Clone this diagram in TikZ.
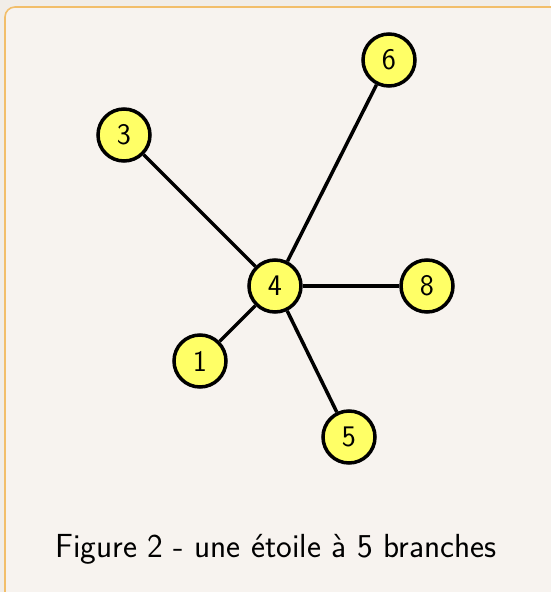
\documentclass[tikz,border=0pt]{standalone}
\usetikzlibrary{positioning}
\definecolor{page}{HTML}{F1EDE8}
\definecolor{panel}{HTML}{F7F3EF}
\definecolor{rim}{HTML}{F2BE6A}
\definecolor{star yellow}{HTML}{FFFF66}
\tikzset{S node/.style={circle,fill=star yellow,draw,line width=2pt,minimum size=1.04cm,inner sep=0pt,font=\sffamily\fontsize{17}{20}\selectfont},}

\begin{document}
\begin{tikzpicture}
			\fill[page] (0,0) rectangle (11,-11.84);
			\useasboundingbox (0,0) rectangle (11,-11.84);
			\draw[rim, fill=panel, rounded corners=0.2cm, line width=0.9pt] (0.1,-0.14) rectangle (11.4,-12.2);

			\node[S node] (4) at (5.5, -5.72) {4};
			\node[S node] (6) at (7.78, -1.2) {6};
			\node[S node] (3) at (2.48, -2.7) {3};
			\node[S node] (8) at (8.54, -5.72) {8};
			\node[S node] (1) at (4.0, -7.22) {1};
			\node[S node] (5) at (6.98, -8.74) {5};

			\path[draw, line width=2pt]
				(4) edge (6)
				(4) edge (3)
				(4) edge (8)
				(4) edge (1)
				(4) edge (5);

			\node[font=\sffamily\fontsize{19}{23}\selectfont] (caption) at (5.52, -10.98) {Figure 2 - une étoile à 5 branches};
		\end{tikzpicture}
\end{document}
